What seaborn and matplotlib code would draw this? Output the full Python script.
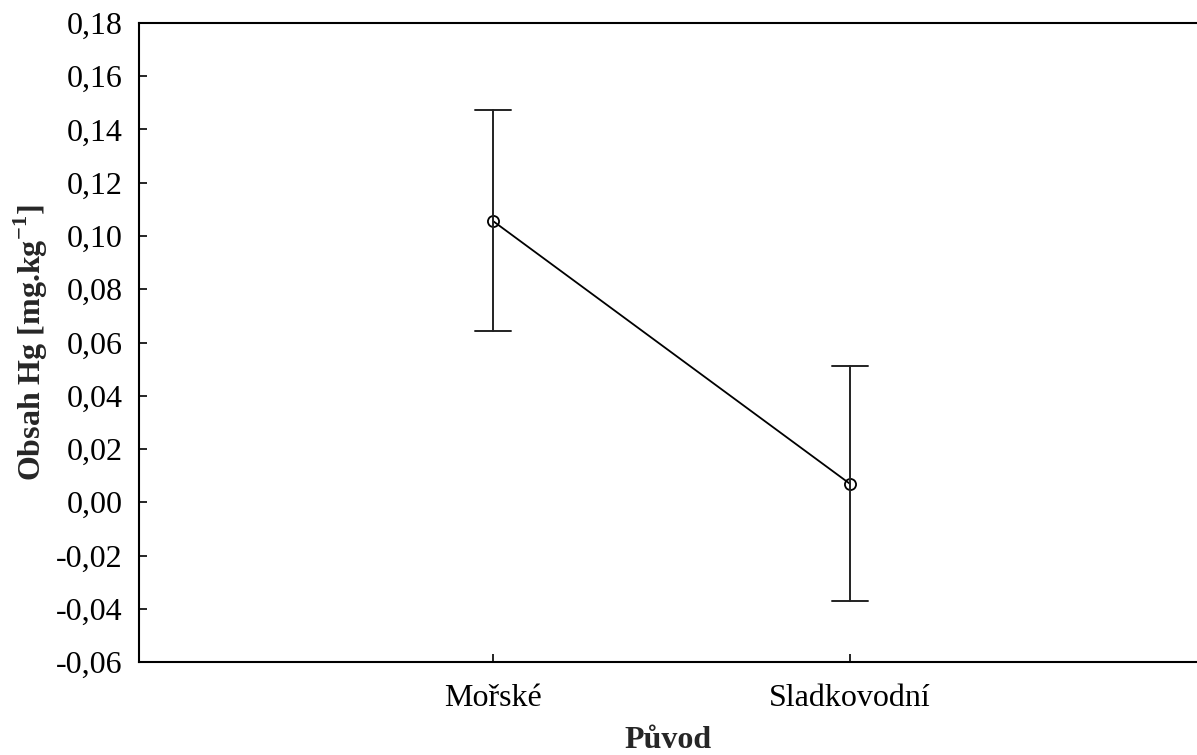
import pandas as pd
import matplotlib
matplotlib.use('Agg')
import matplotlib.pyplot as plt
from matplotlib.ticker import FuncFormatter, MultipleLocator
import seaborn as sns

# values: mean and lower / upper ends of the error bars
categories = ['Mořské', 'Sladkovodní']
means = [0.1056, 0.0069]
lower = [0.0643, -0.0371]
upper = [0.1473, 0.0512]

sns.set_theme(style='white')
plt.rcParams['font.family'] = ['Liberation Serif', 'DejaVu Serif']
plt.rcParams['mathtext.fontset'] = 'custom'
plt.rcParams['mathtext.rm'] = 'Liberation Serif'
plt.rcParams['mathtext.bf'] = 'Liberation Serif:bold'

# long table: median = mean, min/max = error bar ends
rows = []
for cat, m, lo, hi in zip(categories, means, lower, upper):
    for v in (lo, m, hi):
        rows.append({'puvod': cat, 'hg': v})
df = pd.DataFrame(rows)

fig = plt.figure(figsize=(11.97, 7.55), dpi=100)
ax = fig.add_axes([139 / 1197, 93 / 755, 1.0 - 139 / 1197, 639 / 755])

sns.pointplot(data=df, x='puvod', y='hg', order=categories,
              estimator='median', errorbar=('pi', 100),
              color='black', capsize=0.1, markers='o',
              markersize=8, markerfacecolor='none', markeredgewidth=1.3,
              linewidth=1.3, err_kws={'linewidth': 1.4, 'color': '#222222'},
              ax=ax)

ax.set_xlim(-0.992, 1.972)
ax.set_ylim(-0.06, 0.18)
ax.yaxis.set_major_locator(MultipleLocator(0.02))
ax.yaxis.set_major_formatter(FuncFormatter(lambda v, p: f'{v:.2f}'.replace('.', ',').replace('-0,00', '0,00')))

for side in ['left', 'top', 'bottom']:
    ax.spines[side].set_visible(True)
    ax.spines[side].set_color('black')
    ax.spines[side].set_linewidth(1.5)
ax.spines['right'].set_visible(False)

ax.tick_params(axis='both', direction='in', length=6, width=1.2, colors='black',
               labelsize=23, left=True, bottom=True)
ax.tick_params(axis='y', pad=12)
ax.tick_params(axis='x', pad=16)

ax.set_xlabel('Původ', fontsize=23, fontweight='bold', labelpad=9)
ax.set_ylabel(r'Obsah Hg [mg.kg$^{\mathbf{-1}}$]', fontsize=23, fontweight='bold', labelpad=4)

fig.savefig('out.png', dpi=100)
plt.close()
